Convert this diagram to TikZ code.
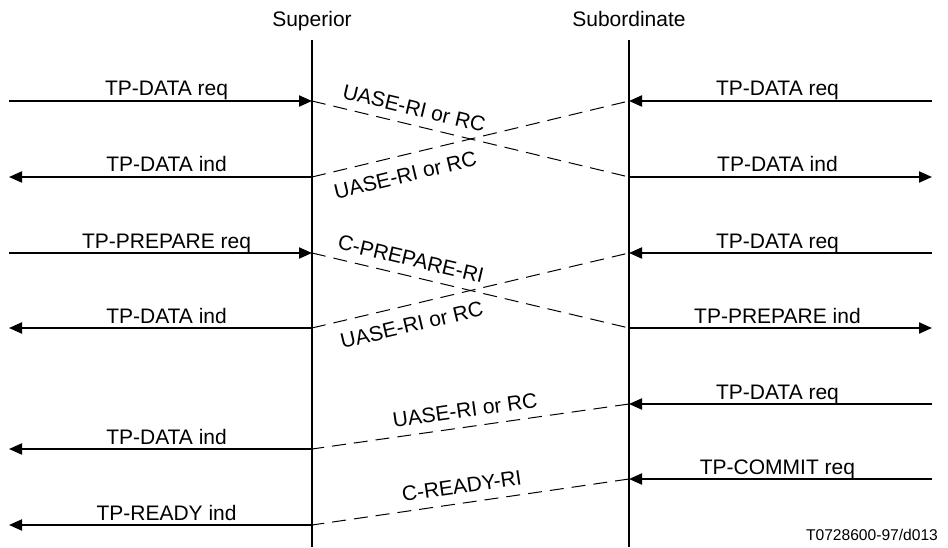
\documentclass[tikz,border=0pt]{standalone}
\usepackage{fontspec}
\setmainfont{Liberation Sans}
\usetikzlibrary{arrows.meta}

\begin{document}
\begin{tikzpicture}[x=0.5pt, y=0.5pt, font=\fontsize{10.5}{12}\selectfont,
  msg/.style={-{Triangle[length=6.5pt,width=5.5pt]}, line width=1pt},
  pdu/.style={dash pattern=on 7pt off 4pt, line width=0.5pt},
  lbl/.style={anchor=base, inner sep=0pt, yshift=2.5pt},
  pdu above/.style={sloped, above, inner sep=4.5pt},
  pdu below/.style={sloped, below, inner sep=6pt}]
\useasboundingbox (0,0) rectangle (948,547);

% lifelines
\node[anchor=base] (sup) at (312,520) {Superior};
\node[anchor=base] (sub) at (629,520) {Subordinate};
\coordinate (supT) at (312,507);
\coordinate (supB) at (312,0);
\coordinate (subT) at (629,507);
\coordinate (subB) at (629,0);
\draw[line width=1pt] (supT) -- (supB);
\draw[line width=1pt] (subT) -- (subB);

% rows: L = left end, S = superior, B = subordinate, R = right end
\foreach \n/\y in {1/446,2/370,3/294,4/219}{
  \coordinate (L\n) at (9,\y);
  \coordinate (S\n) at (312,\y);
  \coordinate (B\n) at (629,\y);
  \coordinate (R\n) at (932,\y);
}
\coordinate (B5) at (629,143);
\coordinate (R5) at (932,143);
\coordinate (L5) at (9,98);
\coordinate (S5) at (312,98);
\coordinate (B6) at (629,68);
\coordinate (R6) at (932,68);
\coordinate (L6) at (9,22);
\coordinate (S6) at (312,22);

% data exchange
\draw[msg] (L1) -- node[lbl, pos=0.52] {TP-DATA req} (S1);
\draw[msg] (R1) -- node[lbl, pos=0.51] {TP-DATA req} (B1);
\draw[msg] (S2) -- node[lbl, pos=0.48] {TP-DATA ind} (L2);
\draw[msg] (B2) -- node[lbl, pos=0.49] {TP-DATA ind} (R2);
\draw[pdu] (S1) -- node[pdu above, pos=0.31] {UASE-RI or RC} (B2);
\draw[pdu] (S2) -- node[pdu below, pos=0.28] {UASE-RI or RC} (B1);

% prepare
\draw[msg] (L3) -- node[lbl, pos=0.52] {TP-PREPARE req} (S3);
\draw[msg] (R3) -- node[lbl, pos=0.51] {TP-DATA req} (B3);
\draw[msg] (S4) -- node[lbl, pos=0.48] {TP-DATA ind} (L4);
\draw[msg] (B4) -- node[lbl, pos=0.49] {TP-PREPARE ind} (R4);
\draw[pdu] (S3) -- node[pdu above, pos=0.30] {C-PREPARE-RI} (B4);
\draw[pdu] (S4) -- node[pdu below, pos=0.30] {UASE-RI or RC} (B3);

% ready
\draw[msg] (R5) -- node[lbl, pos=0.51] {TP-DATA req} (B5);
\draw[msg] (S5) -- node[lbl, pos=0.48] {TP-DATA ind} (L5);
\draw[pdu] (B5) -- node[pdu above, pos=0.51] {UASE-RI or RC} (S5);
\draw[msg] (R6) -- node[lbl, pos=0.51] {TP-COMMIT req} (B6);
\draw[msg] (S6) -- node[lbl, pos=0.48] {TP-READY ind} (L6);
\draw[pdu] (B6) -- node[pdu above, pos=0.52] {C-READY-RI} (S6);

\node[anchor=base east, font=\fontsize{7.8}{9}\selectfont] (fig) at (945,7) {T0728600-97/d013};
\end{tikzpicture}
\end{document}
